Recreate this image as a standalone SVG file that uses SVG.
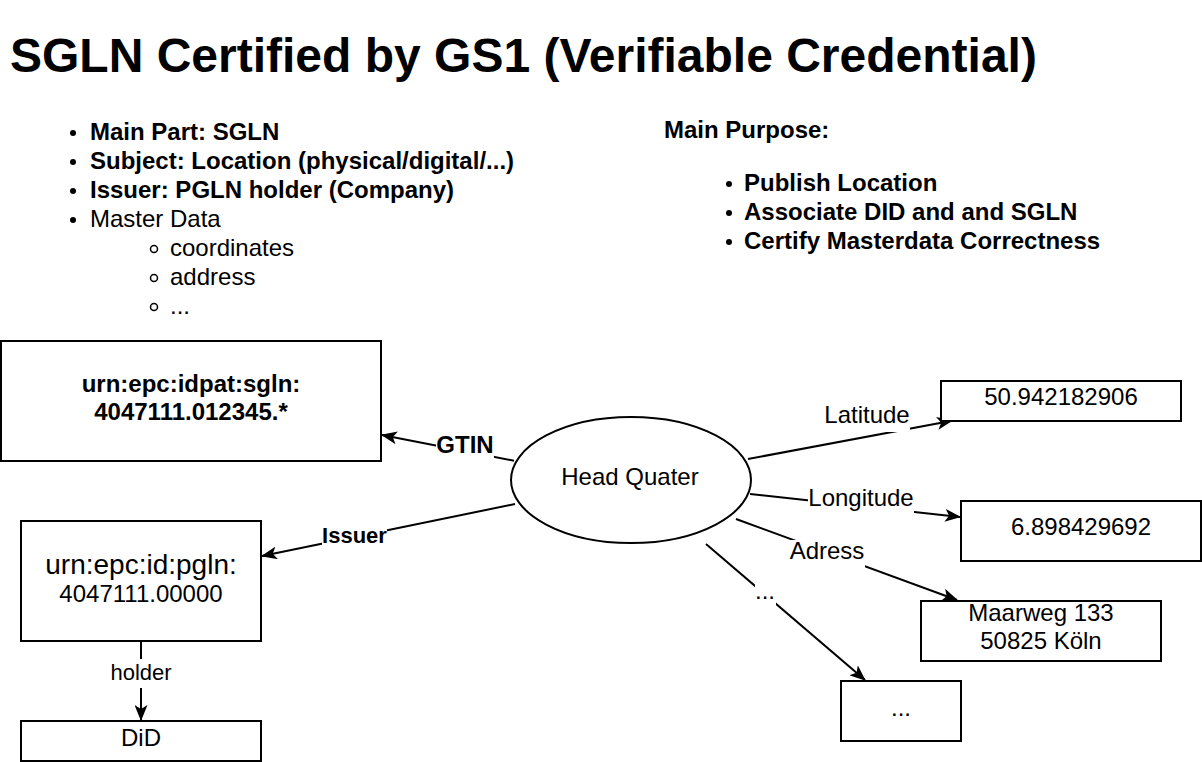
<svg xmlns="http://www.w3.org/2000/svg" width="1202" height="762" viewBox="0 0 1202 762">
<style>
text{font-family:"Liberation Sans",Arial,Helvetica,sans-serif;fill:#000}
.b{font-weight:bold}
.c{text-anchor:middle}
.box{fill:#fff;stroke:#000;stroke-width:2}
.edge{fill:none;stroke:#000;stroke-width:2}
.lbg{fill:#fff}
</style>
<defs>
<marker id="arr" viewBox="0 0 16 13" refX="15" refY="6.5" markerWidth="16" markerHeight="13" markerUnits="userSpaceOnUse" orient="auto">
<path d="M0,0 L16,6.5 L0,13 L4,6.5 Z" fill="#000"/>
</marker>
</defs>
<rect width="1202" height="762" fill="#fff"/>

<g id="title">
<text x="10" y="72" class="b" font-size="48">SGLN Certified by GS1 (Verifiable Credential)</text>
</g>

<g id="left-list" font-size="24">
<circle cx="73" cy="133" r="3"/>
<circle cx="73" cy="162" r="3"/>
<circle cx="73" cy="191" r="3"/>
<circle cx="73" cy="220" r="3"/>
<text x="90" y="140" class="b" font-size="24">Main Part: SGLN</text>
<text x="90" y="169" class="b" font-size="24">Subject: Location (physical/digital/...)</text>
<text x="90" y="198" class="b" font-size="24">Issuer: PGLN holder (Company)</text>
<text x="90" y="227" font-size="24">Master Data</text>
<circle cx="154" cy="249" r="3.5" fill="none" stroke="#000" stroke-width="1.5"/>
<circle cx="154" cy="278" r="3.5" fill="none" stroke="#000" stroke-width="1.5"/>
<circle cx="154" cy="307" r="3.5" fill="none" stroke="#000" stroke-width="1.5"/>
<text x="170" y="256" font-size="24">coordinates</text>
<text x="170" y="285" font-size="24">address</text>
<text x="170" y="314" font-size="24">...</text>
</g>

<g id="right-list">
<text x="664" y="138" class="b" font-size="24">Main Purpose:</text>
<circle cx="729" cy="184" r="3"/>
<circle cx="729" cy="213" r="3"/>
<circle cx="729" cy="242" r="3"/>
<text x="744" y="191" class="b" font-size="24">Publish Location</text>
<text x="744" y="220" class="b" font-size="24">Associate DID and and SGLN</text>
<text x="744" y="249" class="b" font-size="24">Certify Masterdata Correctness</text>
</g>

<g id="connectors">
<line class="edge" x1="514" y1="460.7" x2="382" y2="435" marker-end="url(#arr)"/>
<line class="edge" x1="515" y1="504" x2="262" y2="556" marker-end="url(#arr)"/>
<line class="edge" x1="141" y1="641" x2="141" y2="720" marker-end="url(#arr)"/>
<line class="edge" x1="748" y1="459" x2="952" y2="420.7" marker-end="url(#arr)"/>
<line class="edge" x1="750" y1="494" x2="960" y2="517" marker-end="url(#arr)"/>
<line class="edge" x1="736" y1="519" x2="957" y2="600" marker-end="url(#arr)"/>
<line class="edge" x1="706" y1="544" x2="865" y2="680" marker-end="url(#arr)"/>
<rect class="lbg" x="436" y="433" width="58" height="29"/>
<text x="465" y="453" class="b c" font-size="24">GTIN</text>
<rect class="lbg" x="322" y="523" width="65" height="27"/>
<text x="354.5" y="543" class="b c" font-size="22">Issuer</text>
<rect class="lbg" x="110.5" y="659" width="61" height="29"/>
<text x="141" y="680" class="c" font-size="22">holder</text>
<rect class="lbg" x="824" y="403" width="86" height="29"/>
<text x="867" y="423" class="c" font-size="24">Latitude</text>
<rect class="lbg" x="808" y="486" width="106" height="27"/>
<text x="861" y="506" class="c" font-size="24">Longitude</text>
<rect class="lbg" x="790" y="540" width="75" height="28"/>
<text x="827" y="559" class="c" font-size="24">Adress</text>
<rect class="lbg" x="755" y="580" width="21" height="27"/>
<text x="765" y="599" class="c" font-size="24">...</text>
</g>

<g id="node-sgln">
<rect class="box" x="1" y="341" width="380" height="120"/>
<text x="191" y="392" class="b c" font-size="24">urn:epc:idpat:sgln:</text>
<text x="191" y="420" class="b c" font-size="24">4047111.012345.*</text>
</g>

<g id="node-pgln">
<rect class="box" x="21" y="521" width="240" height="120"/>
<text x="141" y="574" class="c" font-size="28">urn:epc:id:pgln:</text>
<text x="141" y="602" class="c" font-size="24">4047111.00000</text>
</g>

<g id="node-did">
<rect class="box" x="21" y="721" width="240" height="40"/>
<text x="141" y="746" class="c" font-size="24">DiD</text>
</g>

<g id="node-hq">
<ellipse cx="631" cy="480" rx="120" ry="63" fill="#fff" stroke="#000" stroke-width="2"/>
<text x="630" y="485" class="c" font-size="24">Head Quater</text>
</g>

<g id="node-lat">
<rect class="box" x="941" y="381" width="240" height="40"/>
<text x="1061" y="405" class="c" font-size="24">50.942182906</text>
</g>

<g id="node-lon">
<rect class="box" x="961" y="501" width="240" height="60"/>
<text x="1081" y="535" class="c" font-size="24">6.898429692</text>
</g>

<g id="node-addr">
<rect class="box" x="921" y="601" width="240" height="60"/>
<text x="1041" y="621" class="c" font-size="24">Maarweg 133</text>
<text x="1041" y="649" class="c" font-size="24">50825 Köln</text>
</g>

<g id="node-more">
<rect class="box" x="841" y="681" width="120" height="60"/>
<text x="901" y="716" class="c" font-size="24">...</text>
</g>
</svg>
